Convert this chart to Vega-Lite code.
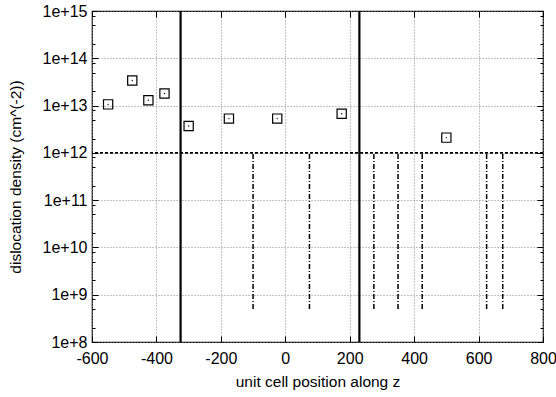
{
  "$schema": "https://vega.github.io/schema/vega-lite/v6.json",
  "width": 451,
  "height": 331,
  "autosize": {"type": "none"},
  "padding": {"left": 92, "top": 11, "right": 13, "bottom": 55},
  "background": "white",
  "datasets": {
    "points": [
      {"z": -550, "density": 1.06e13},
      {"z": -475, "density": 3.4e13},
      {"z": -425, "density": 1.3e13},
      {"z": -375, "density": 1.8e13},
      {"z": -300, "density": 3.7e12},
      {"z": -175, "density": 5.3e12},
      {"z": -25, "density": 5.3e12},
      {"z": 175, "density": 6.7e12},
      {"z": 500, "density": 2.1e12}
    ],
    "boundaries": [{"z": -325}, {"z": 230}],
    "threshold": [{"density": 1e12}],
    "markers": [
      {"z": -100, "low": 5e8, "high": 1e12},
      {"z": 75, "low": 5e8, "high": 1e12},
      {"z": 275, "low": 5e8, "high": 1e12},
      {"z": 350, "low": 5e8, "high": 1e12},
      {"z": 425, "low": 5e8, "high": 1e12},
      {"z": 625, "low": 5e8, "high": 1e12},
      {"z": 675, "low": 5e8, "high": 1e12}
    ]
  },
  "resolve": {"axis": {"x": "independent", "y": "independent"}},
  "layer": [
    {
      "data": {"name": "boundaries"},
      "mark": {"type": "rule", "color": "black", "strokeWidth": 2.2},
      "encoding": {
        "x": {"field": "z", "type": "quantitative", "scale": {"domain": [-600, 800], "nice": false, "zero": false}, "axis": null}
      }
    },
    {
      "data": {"name": "threshold"},
      "mark": {"type": "rule", "color": "black", "strokeWidth": 1.8, "strokeDash": [3, 2]},
      "encoding": {
        "y": {"field": "density", "type": "quantitative", "scale": {"type": "log", "domain": [1e8, 1e15], "nice": false}, "axis": null}
      }
    },
    {
      "data": {"name": "markers"},
      "mark": {"type": "rule", "color": "black", "strokeWidth": 1.5, "strokeDash": [5, 2, 1, 2]},
      "encoding": {
        "x": {"field": "z", "type": "quantitative", "axis": null},
        "y": {"field": "low", "type": "quantitative", "axis": null},
        "y2": {"field": "high"}
      }
    },
    {
      "data": {"name": "points"},
      "mark": {"type": "point", "shape": "square", "filled": false, "color": "black", "size": 85, "strokeWidth": 1.2, "opacity": 1},
      "encoding": {
        "x": {
          "field": "z", "type": "quantitative",
          "axis": {
            "orient": "bottom",
            "title": "unit cell position along z",
            "values": [-600, -400, -200, 0, 200, 400, 600, 800],
            "labelExpr": "datum.value < 0 ? '-' + abs(datum.value) : '' + datum.value",
            "labelFlush": false,
            "labelOverlap": false,
            "tickSize": -6,
            "labelPadding": 14,
            "grid": true,
            "titleX": 225.5,
            "titleY": 44,
            "titleBaseline": "alphabetic"
          }
        },
        "y": {
          "field": "density", "type": "quantitative",
          "axis": {
            "orient": "left",
            "title": "dislocation density (cm^(-2))",
            "values": [1e8, 2e8, 5e8, 8e8, 1e9, 2e9, 5e9, 8e9, 1e10, 2e10, 5e10, 8e10, 1e11, 2e11, 5e11, 8e11, 1e12, 2e12, 5e12, 8e12, 1e13, 2e13, 5e13, 8e13, 1e14, 2e14, 5e14, 8e14, 1e15],
            "labelExpr": "abs(log(datum.value)/LN10 - round(log(datum.value)/LN10)) < 0.001 ? '1e+' + round(log(datum.value)/LN10) : ''",
            "labelOverlap": false,
            "labelFlush": false,
            "labelPadding": 11,
            "tickSize": {"condition": {"test": "abs(log(datum.value)/LN10 - round(log(datum.value)/LN10)) < 0.001", "value": -6}, "value": -3},
            "grid": true,
            "gridOpacity": {"condition": {"test": "abs(log(datum.value)/LN10 - round(log(datum.value)/LN10)) < 0.001", "value": 1}, "value": 0},
            "titleX": -77,
            "titleY": 165.5,
            "titleBaseline": "middle",
            "titleAngle": -90
          }
        }
      }
    },
    {
      "data": {"name": "points"},
      "mark": {"type": "point", "shape": "circle", "filled": true, "color": "black", "size": 2, "opacity": 1},
      "encoding": {
        "x": {
          "field": "z", "type": "quantitative",
          "axis": {
            "orient": "top",
            "title": null,
            "values": [-600, -400, -200, 0, 200, 400, 600, 800],
            "labels": false,
            "tickSize": -6,
            "grid": false
          }
        },
        "y": {
          "field": "density", "type": "quantitative",
          "axis": {
            "orient": "right",
            "title": null,
            "values": [1e8, 2e8, 5e8, 8e8, 1e9, 2e9, 5e9, 8e9, 1e10, 2e10, 5e10, 8e10, 1e11, 2e11, 5e11, 8e11, 1e12, 2e12, 5e12, 8e12, 1e13, 2e13, 5e13, 8e13, 1e14, 2e14, 5e14, 8e14, 1e15],
            "labels": false,
            "tickSize": {"condition": {"test": "abs(log(datum.value)/LN10 - round(log(datum.value)/LN10)) < 0.001", "value": -6}, "value": -3},
            "grid": false
          }
        }
      }
    }
  ],
  "config": {
    "view": {"stroke": "black", "strokeWidth": 1.2},
    "axis": {
      "domain": false,
      "labelFont": "Liberation Sans",
      "labelFontSize": 16,
      "labelColor": "black",
      "titleFont": "Liberation Sans",
      "titleFontSize": 15.5,
      "titleFontWeight": "normal",
      "titleColor": "black",
      "tickColor": "black",
      "tickWidth": 1,
      "gridColor": "#888888",
      "gridDash": [1, 2],
      "gridWidth": 1
    }
  }
}
